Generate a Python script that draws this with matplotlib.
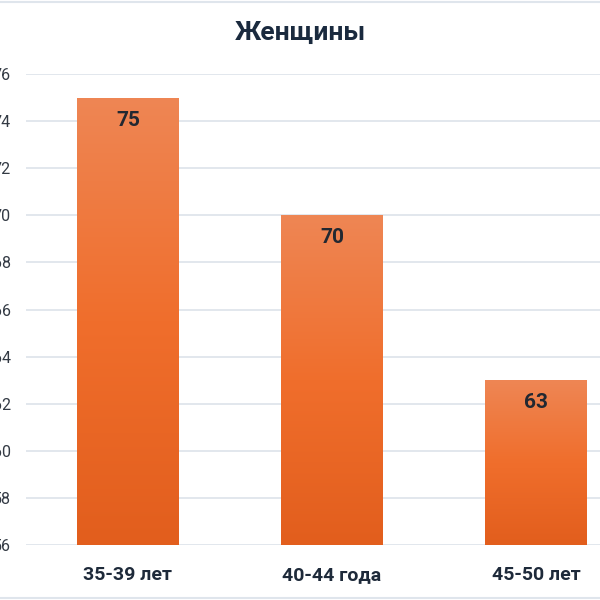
import matplotlib
matplotlib.use("Agg")
import matplotlib.pyplot as plt
import numpy as np
from matplotlib.colors import LinearSegmentedColormap
from matplotlib.lines import Line2D

categories = ["35-39 лет", "40-44 года", "45-50 лет"]
values = [75, 70, 63]
yticks = [56, 58, 60, 62, 64, 66, 68, 70, 72, 74, 76]
title = "Женщины"

plt.rcParams['font.family'] = ['Roboto', 'DejaVu Sans']

fig = plt.figure(figsize=(6, 6), dpi=100)
ax = fig.add_axes([26/600, 55/600, 574/600, 471/600])
ax.set_xlim(-0.5, 2.314)
ax.set_ylim(56, 76)

x = np.arange(len(categories))
bars = ax.bar(x, [v - 56 for v in values], bottom=56, width=0.5, color='none', zorder=3)

cmap = LinearSegmentedColormap.from_list("g", ["#E25E1D", "#F06E2C", "#EE8654"])
grad = np.linspace(0, 1, 256).reshape(-1, 1)
for b, v in zip(bars, values):
    x0 = b.get_x(); w = b.get_width()
    im = ax.imshow(grad, extent=[x0, x0 + w, 56, v], origin='lower', cmap=cmap,
                   aspect='auto', zorder=3)
    im.set_clip_path(b)
    ax.text(x0 + w/2, v - 0.55, str(v), ha='center', va='top', fontsize=15,
            fontweight='bold', color='#222831', zorder=4)

ax.set_xlim(-0.5, 2.314)
ax.set_ylim(56, 76)
ax.set_yticks(yticks)
ax.set_yticklabels([str(t) for t in yticks], fontsize=11.5, color='#333a44')
ax.set_xticks(x)
ax.set_xticklabels(categories, fontsize=14, fontweight='bold', color='#1e2a3a')
ax.tick_params(axis='y', length=0, pad=11)
ax.tick_params(axis='x', length=0, pad=15)
ax.grid(axis='y', color='#dfe5ec', linewidth=1.3, zorder=0)
ax.set_axisbelow(True)
for s in ax.spines.values():
    s.set_visible(False)

fig.text(0.5, 1 - 33/600, title, ha='center', va='center', fontsize=19,
         fontweight='bold', color='#1a2a3e')
fig.add_artist(Line2D([0, 1], [1 - 1.5/600, 1 - 1.5/600], transform=fig.transFigure,
                      color='#dfe5ec', linewidth=1.5))
fig.add_artist(Line2D([0, 1], [2.5/600, 2.5/600], transform=fig.transFigure,
                      color='#dfe5ec', linewidth=1.5))

fig.savefig("out.png", dpi=100)
